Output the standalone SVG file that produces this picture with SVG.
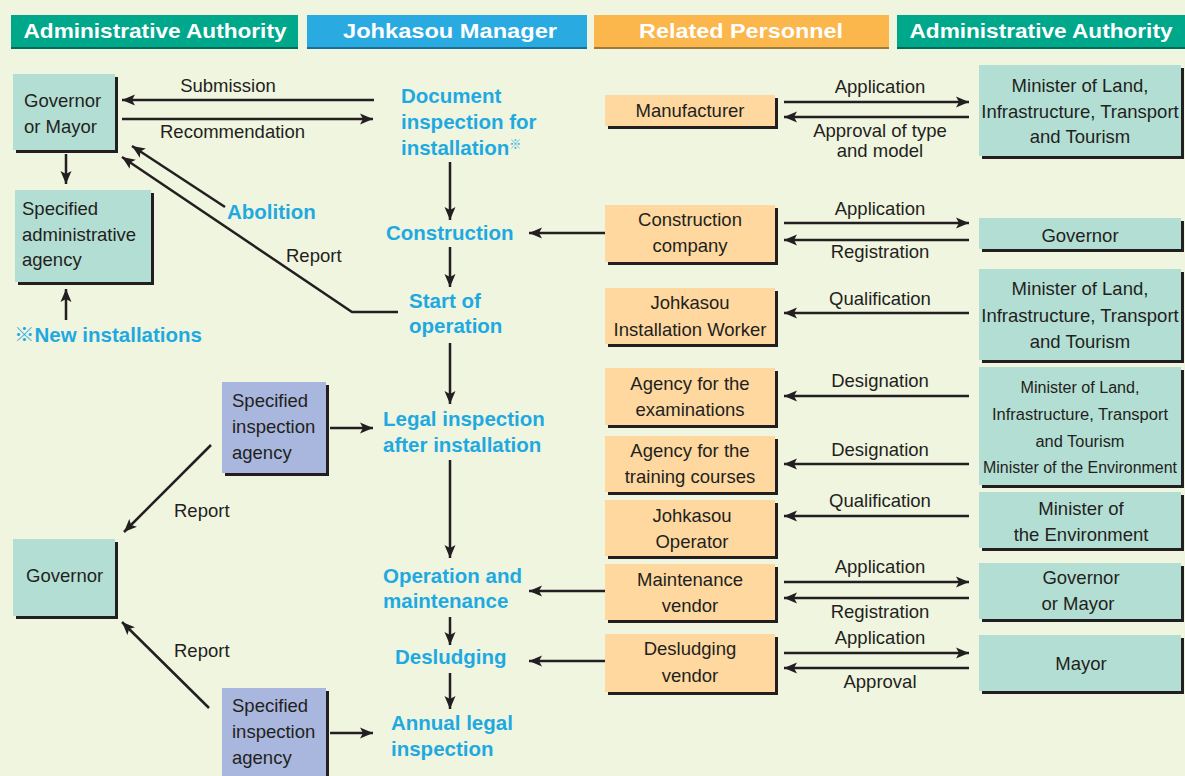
<svg xmlns="http://www.w3.org/2000/svg" width="1185" height="776" viewBox="0 0 1185 776">
<defs>
<marker id="ah" markerUnits="userSpaceOnUse" markerWidth="14" markerHeight="12" refX="13" refY="6" orient="auto">
<path d="M0,0.5 L13,6 L0,11.5 L3,6 z" fill="#231f20"/>
</marker>
<style>
.bg{fill:#f0f5df}
.hdr{font-family:"Liberation Sans",Arial,sans-serif;font-weight:bold;font-size:21px;fill:#ffffff;text-anchor:middle}
.t{font-family:"Liberation Sans",Arial,"Noto Sans CJK JP",sans-serif;font-size:18.5px;fill:#231f20}
.s{font-size:16px}
.c{text-anchor:middle}
.b{font-family:"Liberation Sans",Arial,"Noto Sans CJK JP",sans-serif;font-size:20.5px;font-weight:bold;fill:#1fa9e1}
.sh{fill:#231f20}
.teal{fill:#b3ded3}
.org{fill:#fed89f}
.lav{fill:#a9b7de}
.ln{fill:none;stroke:#231f20;stroke-width:2.5;marker-end:url(#ah)}
</style>
</defs>
<rect class="bg" x="0" y="0" width="1185" height="776"/>

<g id="headers">
<rect x="11" y="17" width="287" height="32" fill="#006d59"/>
<rect x="11" y="15" width="287" height="32" fill="#00a88b"/>
<text class="hdr" x="155" y="38" textLength="263" lengthAdjust="spacingAndGlyphs">Administrative Authority</text>
<rect x="307" y="17" width="280" height="32" fill="#1b6f96"/>
<rect x="307" y="15" width="280" height="32" fill="#29abe2"/>
<text class="hdr" x="450" y="38" textLength="214" lengthAdjust="spacingAndGlyphs">Johkasou Manager</text>
<rect x="594" y="17" width="295" height="32" fill="#a07a3a"/>
<rect x="594" y="15" width="295" height="32" fill="#fbb64c"/>
<text class="hdr" x="741" y="38" textLength="204" lengthAdjust="spacingAndGlyphs">Related Personnel</text>
<rect x="897" y="17" width="288" height="32" fill="#006d59"/>
<rect x="897" y="15" width="288" height="32" fill="#00a88b"/>
<text class="hdr" x="1041" y="38" textLength="263" lengthAdjust="spacingAndGlyphs">Administrative Authority</text>
</g>

<g id="connectors">
<path class="ln" d="M374,100 L122,100"/>
<path class="ln" d="M122,119 L373,119"/>
<path class="ln" d="M66,154 L66,184"/>
<path class="ln" d="M66,320 L66,289"/>
<path class="ln" d="M225,207 L132,146"/>
<path class="ln" d="M398,312 L352,312 L122,157"/>
<path class="ln" d="M450,162 L450,220"/>
<path class="ln" d="M605,233 L529,233"/>
<path class="ln" d="M450,247 L450,287"/>
<path class="ln" d="M450,343 L450,404"/>
<path class="ln" d="M450,460 L450,558"/>
<path class="ln" d="M605,591 L529,591"/>
<path class="ln" d="M450,617 L450,645"/>
<path class="ln" d="M605,661 L529,661"/>
<path class="ln" d="M450,673 L450,709"/>
<path class="ln" d="M330,428 L373,428"/>
<path class="ln" d="M211,445 L124,532"/>
<path class="ln" d="M209,708 L122,622"/>
<path class="ln" d="M330,733 L373,733"/>
<path class="ln" d="M784,102 L969,102"/>
<path class="ln" d="M969,117 L784,117"/>
<path class="ln" d="M784,223 L969,223"/>
<path class="ln" d="M969,240 L784,240"/>
<path class="ln" d="M969,313 L784,313"/>
<path class="ln" d="M969,396 L784,396"/>
<path class="ln" d="M969,464 L784,464"/>
<path class="ln" d="M969,516 L784,516"/>
<path class="ln" d="M784,582 L969,582"/>
<path class="ln" d="M969,598 L784,598"/>
<path class="ln" d="M784,653 L969,653"/>
<path class="ln" d="M969,668 L784,668"/>
</g>

<g id="connector-labels">
<text class="t c" x="228" y="92">Submission</text>
<text class="t" x="160" y="138">Recommendation</text>
<text class="b" x="227" y="219">Abolition</text>
<text class="t" x="286" y="262">Report</text>
<text class="t" x="174" y="517">Report</text>
<text class="t" x="174" y="657">Report</text>
<text class="t c" x="880" y="93">Application</text>
<text class="t c" x="880" y="137">Approval of type</text>
<text class="t c" x="880" y="157">and model</text>
<text class="t c" x="880" y="215">Application</text>
<text class="t c" x="880" y="258">Registration</text>
<text class="t c" x="880" y="305">Qualification</text>
<text class="t c" x="880" y="387">Designation</text>
<text class="t c" x="880" y="456">Designation</text>
<text class="t c" x="880" y="507">Qualification</text>
<text class="t c" x="880" y="573">Application</text>
<text class="t c" x="880" y="618">Registration</text>
<text class="t c" x="880" y="644">Application</text>
<text class="t c" x="880" y="688">Approval</text>
</g>

<g id="governor-or-mayor">
<rect class="sh" x="16" y="77" width="102" height="76"/>
<rect class="teal" x="13" y="74" width="102" height="76"/>
<text class="t" x="24" y="107">Governor</text>
<text class="t" x="24" y="133">or Mayor</text>
</g>
<g id="specified-administrative-agency">
<rect class="sh" x="18" y="193" width="136" height="92"/>
<rect class="teal" x="15" y="190" width="136" height="92"/>
<text class="t" x="22" y="215">Specified</text>
<text class="t" x="22" y="241">administrative</text>
<text class="t" x="22" y="266">agency</text>
</g>
<g id="new-installations">
<text class="b" x="14" y="342">※New installations</text>
</g>

<g id="document-inspection">
<text class="b" x="401" y="103">Document</text>
<text class="b" x="401" y="129">inspection for</text>
<text class="b" x="401" y="155">installation<tspan font-size="12" dy="-6">※</tspan></text>
</g>
<g id="construction"><text class="b" x="386" y="240">Construction</text></g>
<g id="start-of-operation">
<text class="b" x="409" y="308">Start of</text>
<text class="b" x="409" y="333">operation</text>
</g>
<g id="legal-inspection">
<text class="b" x="383" y="426">Legal inspection</text>
<text class="b" x="383" y="452">after installation</text>
</g>
<g id="operation-maintenance">
<text class="b" x="383" y="583">Operation and</text>
<text class="b" x="383" y="608">maintenance</text>
</g>
<g id="desludging"><text class="b" x="395" y="664">Desludging</text></g>
<g id="annual-legal-inspection">
<text class="b" x="391" y="730">Annual legal</text>
<text class="b" x="391" y="756">inspection</text>
</g>

<g id="specified-inspection-agency-1">
<rect class="sh" x="225" y="385" width="104" height="91"/>
<rect class="lav" x="222" y="382" width="104" height="91"/>
<text class="t" x="232" y="407">Specified</text>
<text class="t" x="232" y="433">inspection</text>
<text class="t" x="232" y="459">agency</text>
</g>
<g id="governor-left">
<rect class="sh" x="16" y="542" width="102" height="77"/>
<rect class="teal" x="13" y="539" width="102" height="77"/>
<text class="t" x="26" y="582">Governor</text>
</g>
<g id="specified-inspection-agency-2">
<rect class="sh" x="225" y="691" width="104" height="90"/>
<rect class="lav" x="222" y="688" width="104" height="90"/>
<text class="t" x="232" y="712">Specified</text>
<text class="t" x="232" y="738">inspection</text>
<text class="t" x="232" y="764">agency</text>
</g>

<g id="manufacturer">
<rect class="sh" x="608" y="98" width="170" height="31"/>
<rect class="org" x="605" y="95" width="170" height="31"/>
<text class="t c" x="690" y="117">Manufacturer</text>
</g>
<g id="construction-company">
<rect class="sh" x="608" y="208" width="170" height="57"/>
<rect class="org" x="605" y="205" width="170" height="57"/>
<text class="t c" x="690" y="226">Construction</text>
<text class="t c" x="690" y="252">company</text>
</g>
<g id="installation-worker">
<rect class="sh" x="608" y="291" width="170" height="56"/>
<rect class="org" x="605" y="288" width="170" height="56"/>
<text class="t c" x="690" y="309">Johkasou</text>
<text class="t c" x="690" y="336">Installation Worker</text>
</g>
<g id="agency-examinations">
<rect class="sh" x="608" y="371" width="170" height="57"/>
<rect class="org" x="605" y="368" width="170" height="57"/>
<text class="t c" x="690" y="390">Agency for the</text>
<text class="t c" x="690" y="416">examinations</text>
</g>
<g id="agency-training">
<rect class="sh" x="608" y="439" width="170" height="56"/>
<rect class="org" x="605" y="436" width="170" height="56"/>
<text class="t c" x="690" y="457">Agency for the</text>
<text class="t c" x="690" y="483">training courses</text>
</g>
<g id="johkasou-operator">
<rect class="sh" x="608" y="503" width="170" height="56"/>
<rect class="org" x="605" y="500" width="170" height="56"/>
<text class="t c" x="692" y="522">Johkasou</text>
<text class="t c" x="692" y="548">Operator</text>
</g>
<g id="maintenance-vendor">
<rect class="sh" x="608" y="567" width="170" height="56"/>
<rect class="org" x="605" y="564" width="170" height="56"/>
<text class="t c" x="690" y="586">Maintenance</text>
<text class="t c" x="690" y="612">vendor</text>
</g>
<g id="desludging-vendor">
<rect class="sh" x="608" y="637" width="170" height="58"/>
<rect class="org" x="605" y="634" width="170" height="58"/>
<text class="t c" x="690" y="655">Desludging</text>
<text class="t c" x="690" y="682">vendor</text>
</g>

<g id="minister-mlit-1">
<rect class="sh" x="982" y="68" width="202" height="91"/>
<rect class="teal" x="979" y="65" width="202" height="91"/>
<text class="t c" x="1080" y="92">Minister of Land,</text>
<text class="t c" x="1080" y="118">Infrastructure, Transport</text>
<text class="t c" x="1080" y="143">and Tourism</text>
</g>
<g id="governor-right">
<rect class="sh" x="982" y="221" width="202" height="31"/>
<rect class="teal" x="979" y="218" width="202" height="31"/>
<text class="t c" x="1080" y="242">Governor</text>
</g>
<g id="minister-mlit-2">
<rect class="sh" x="982" y="272" width="202" height="91"/>
<rect class="teal" x="979" y="269" width="202" height="91"/>
<text class="t c" x="1080" y="295">Minister of Land,</text>
<text class="t c" x="1080" y="322">Infrastructure, Transport</text>
<text class="t c" x="1080" y="348">and Tourism</text>
</g>
<g id="minister-mlit-env">
<rect class="sh" x="982" y="370" width="202" height="118"/>
<rect class="teal" x="979" y="367" width="202" height="118"/>
<text class="t s c" x="1080" y="393" textLength="119" lengthAdjust="spacingAndGlyphs">Minister of Land,</text>
<text class="t s c" x="1080" y="420" textLength="176" lengthAdjust="spacingAndGlyphs">Infrastructure, Transport</text>
<text class="t s c" x="1080" y="447" textLength="89" lengthAdjust="spacingAndGlyphs">and Tourism</text>
<text class="t s c" x="1080" y="473" textLength="194" lengthAdjust="spacingAndGlyphs">Minister of the Environment</text>
</g>
<g id="minister-env">
<rect class="sh" x="982" y="495" width="202" height="56"/>
<rect class="teal" x="979" y="492" width="202" height="56"/>
<text class="t c" x="1081" y="515">Minister of</text>
<text class="t c" x="1081" y="541">the Environment</text>
</g>
<g id="governor-or-mayor-right">
<rect class="sh" x="982" y="566" width="202" height="56"/>
<rect class="teal" x="979" y="563" width="202" height="56"/>
<text class="t c" x="1081" y="584">Governor</text>
<text class="t c" x="1078" y="610">or Mayor</text>
</g>
<g id="mayor">
<rect class="sh" x="982" y="638" width="202" height="56"/>
<rect class="teal" x="979" y="635" width="202" height="56"/>
<text class="t c" x="1081" y="670">Mayor</text>
</g>
</svg>
